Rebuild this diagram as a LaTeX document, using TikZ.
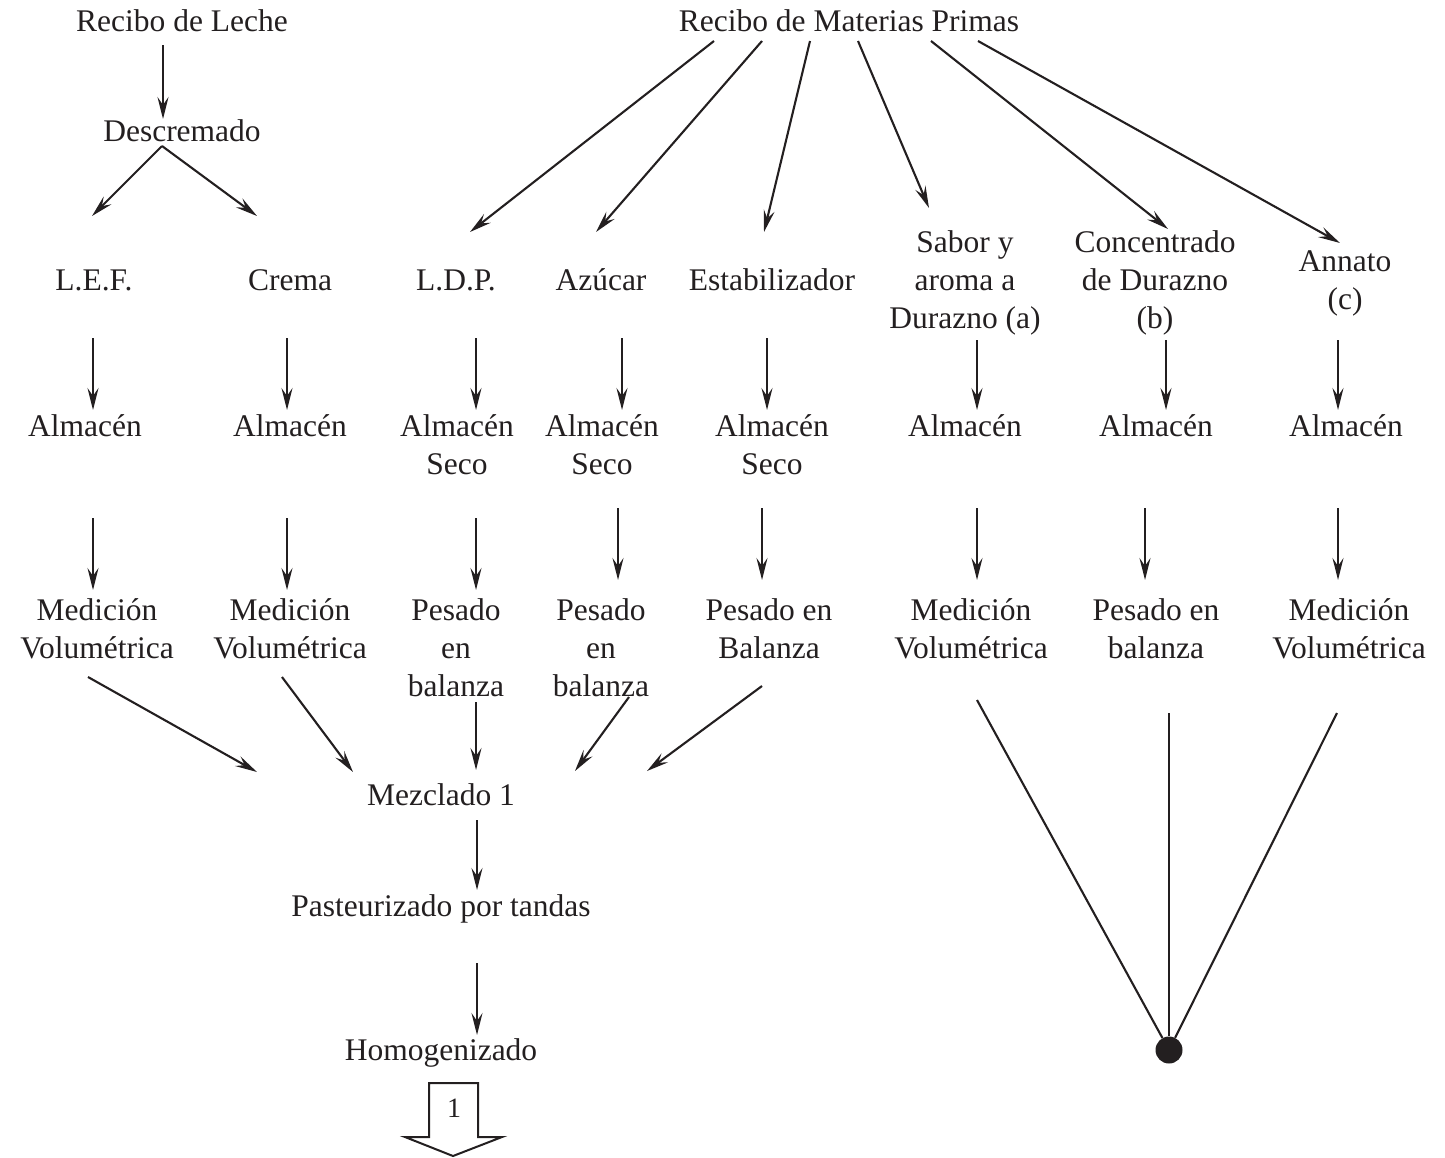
\documentclass[tikz,border=0pt]{standalone}
\usepackage{fontspec}
\setmainfont{Liberation Serif}
\usetikzlibrary{arrows.meta}
\definecolor{ink}{RGB}{35,31,32}
\newcommand\mainsize{\fontsize{31.5}{38}\selectfont}
\newcommand\txtline[1]{\strut#1}
\begin{document}
\begin{tikzpicture}[x=1pt,y=-1pt,
  txt/.style={font=\mainsize,align=center,inner sep=0pt,text=ink},
  arr/.style={draw=ink,line width=2.1pt,-{Stealth[length=22pt,width=11pt,inset=8pt]}},
  plain/.style={draw=ink,line width=2.1pt}]
\useasboundingbox (0,0) rectangle (1445,1157);

% ---- process steps ----
\node[txt] (leche) at (182,23.4) {\txtline{Recibo de Leche}};
\node[txt] (mp)    at (849,23.4) {\txtline{Recibo de Materias Primas}};
\node[txt] (desc)  at (182,133.4) {\txtline{Descremado}};

\node[txt] (lef)   at (94,282.4)  {\txtline{L.E.F.}};
\node[txt] (crema) at (290,282.4) {\txtline{Crema}};
\node[txt] (ldp)   at (456,282.4) {\txtline{L.D.P.}};
\node[txt] (azu)   at (601,282.4) {\txtline{Azúcar}};
\node[txt] (est)   at (772,282.4) {\txtline{Estabilizador}};
\node[txt] (sab)   at (965,282.4) {\txtline{Sabor y}\\\txtline{aroma a}\\\txtline{Durazno (a)}};
\node[txt] (con)   at (1155,282.4){\txtline{Concentrado}\\\txtline{de Durazno}\\\txtline{(b)}};
\node[txt] (ann)   at (1345,282.4){\txtline{Annato}\\\txtline{(c)}};

\node[txt] (alm1) at (85,428.4)   {\txtline{Almacén}};
\node[txt] (alm2) at (290,428.4)  {\txtline{Almacén}};
\node[txt] (alm3) at (457,447.4)  {\txtline{Almacén}\\\txtline{Seco}};
\node[txt] (alm4) at (602,447.4)  {\txtline{Almacén}\\\txtline{Seco}};
\node[txt] (alm5) at (772,447.4)  {\txtline{Almacén}\\\txtline{Seco}};
\node[txt] (alm6) at (965,428.4)  {\txtline{Almacén}};
\node[txt] (alm7) at (1156,428.4) {\txtline{Almacén}};
\node[txt] (alm8) at (1346,428.4) {\txtline{Almacén}};

\node[txt] (med1) at (97,631.4)   {\txtline{Medición}\\\txtline{Volumétrica}};
\node[txt] (med2) at (290,631.4)  {\txtline{Medición}\\\txtline{Volumétrica}};
\node[txt] (pes3) at (456,650.4)  {\txtline{Pesado}\\\txtline{en}\\\txtline{balanza}};
\node[txt] (pes4) at (601,650.4)  {\txtline{Pesado}\\\txtline{en}\\\txtline{balanza}};
\node[txt] (pes5) at (769,631.4)  {\txtline{Pesado en}\\\txtline{Balanza}};
\node[txt] (med6) at (971,631.4)  {\txtline{Medición}\\\txtline{Volumétrica}};
\node[txt] (pes7) at (1156,631.4) {\txtline{Pesado en}\\\txtline{balanza}};
\node[txt] (med8) at (1349,631.4) {\txtline{Medición}\\\txtline{Volumétrica}};

\node[txt] (mez)  at (441,797.4)  {\txtline{Mezclado 1}};
\node[txt] (past) at (441,908.4)  {\txtline{Pasteurizado por tandas}};
\node[txt] (homo) at (441,1052.4) {\txtline{Homogenizado}};

% ---- connector end points ----
\coordinate (d0) at (162,146);
\coordinate (lefT) at (92,216);
\coordinate (creT) at (257,216);

\foreach \n/\sx/\tx/\ty in {1/714/470/232, 2/762/596/232, 3/810/764/232,
                             4/858/929/208, 5/931/1168/229, 6/978/1340/243}
  { \coordinate (m\n s) at (\sx,41); \coordinate (m\n t) at (\tx,\ty); }

\foreach \n/\x/\a/\b in {1/93/338/410, 2/287/338/410, 3/476/338/410, 4/622/338/410,
                         5/767/338/410, 6/977/340/410, 7/1166/340/410, 8/1338/340/410}
  { \coordinate (u\n s) at (\x,\a); \coordinate (u\n t) at (\x,\b); }

\foreach \n/\x/\a/\b in {1/93/518/590, 2/287/518/590, 3/476/518/590, 4/618/508/580,
                         5/762/508/580, 6/977/508/580, 7/1145/508/580, 8/1338/508/580}
  { \coordinate (v\n s) at (\x,\a); \coordinate (v\n t) at (\x,\b); }

\coordinate (c1s) at (88,677);  \coordinate (c1t) at (257,772);
\coordinate (c2s) at (282,677); \coordinate (c2t) at (353,772);
\coordinate (c3s) at (476,702); \coordinate (c3t) at (476,770);
\coordinate (c4s) at (629,697); \coordinate (c4t) at (575,771);
\coordinate (c5s) at (762,686); \coordinate (c5t) at (647,771);

\coordinate (p1s) at (477,820);  \coordinate (p1t) at (477,890);
\coordinate (p2s) at (477,963);  \coordinate (p2t) at (477,1035);
\coordinate (k0)  at (163,45);   \coordinate (k1)  at (163,119);

\coordinate (j1) at (977,700);
\coordinate (j2) at (1169,713);
\coordinate (j3) at (1337,713);

% ---- connectors ----
\draw[arr] (k0) -- (k1);
\draw[arr] (d0) -- (lefT);
\draw[arr] (d0) -- (creT);
\foreach \n in {1,...,6} \draw[arr] (m\n s) -- (m\n t);
\foreach \n in {1,...,8} \draw[arr] (u\n s) -- (u\n t);
\foreach \n in {1,...,8} \draw[arr] (v\n s) -- (v\n t);
\foreach \n in {1,...,5} \draw[arr] (c\n s) -- (c\n t);
\draw[arr] (p1s) -- (p1t);
\draw[arr] (p2s) -- (p2t);

% ---- junction dot ----
\node[circle,fill=ink,inner sep=0pt,minimum size=27pt] (dot) at (1169,1050) {};
\draw[plain] (j1) -- (dot);
\draw[plain] (j2) -- (dot);
\draw[plain] (j3) -- (dot);

% ---- off-page connector ----
\draw[draw=ink,line width=2pt,line join=miter]
  (429,1083) -- (478,1083) -- (478,1137) -- (502,1137) -- (453,1156)
  -- (405,1137) -- (429,1137) -- cycle;
\node[font=\fontsize{28}{32}\selectfont,inner sep=0pt,text=ink] (one) at (454,1108) {1};
\end{tikzpicture}
\end{document}
